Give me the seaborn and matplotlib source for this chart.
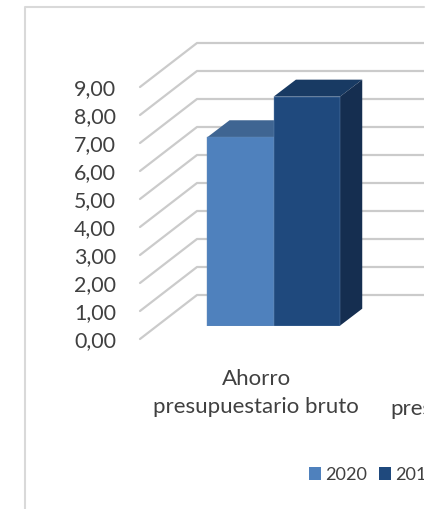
import matplotlib
matplotlib.use("Agg")
import matplotlib.pyplot as plt
from matplotlib.lines import Line2D
from matplotlib.patches import Polygon, Rectangle
import pandas as pd
import seaborn as sns

# ---- data ----
categories = ["Ahorro\npresupuestario bruto"]
years = ["2020", "2019"]
values_2020 = [6.73]
values_2019 = [8.18]
y_ticks = [0, 1, 2, 3, 4, 5, 6, 7, 8, 9]
tick_labels = ["0,00", "1,00", "2,00", "3,00", "4,00", "5,00", "6,00", "7,00", "8,00", "9,00"]
next_category_fragment = "pres"

# ---- style ----
W, H = 445, 509
FONT = "Lato"
FS_TICK = 15.4
FS_CAT = 16.0
FS_LEG = 13.1
TEXT = "#404040"
GRID = "#cbcbcb"
BORDER = "#d9d9d9"
front = {"2020": "#4f81bd", "2019": "#1f497d"}
top = {"2020": "#3f6592", "2019": "#183a63"}
side = {"2020": "#2f4f75", "2019": "#152e50"}

sns.set_theme(style="white")
plt.rcParams["font.family"] = [FONT, "DejaVu Sans"]

fig = plt.figure(figsize=(W / 100, H / 100), dpi=100, facecolor="white")


def box(x0, y_top, x1, y_bottom):
    return [x0 / W, 1 - y_bottom / H, (x1 - x0) / W, (y_bottom - y_top) / H]


# wall / floor grid with value labels
ax = fig.add_axes(box(140, 87, 424, 339))
ax.patch.set_alpha(0)
ax.set_xlim(0, 284)
ax.set_ylim(0, 9)
step = 28.0
for v in y_ticks:
    sns.lineplot(x=[0, 57, 284], y=[v, v + 44 / step, v + 44 / step], ax=ax,
                 color=GRID, linewidth=1.6, clip_on=False, estimator=None, sort=False,
                 solid_joinstyle="round", solid_capstyle="round")
ax.set_yticks(y_ticks, tick_labels, fontsize=FS_TICK, color=TEXT)
ax.set_xticks([])
ax.tick_params(axis="y", length=0, pad=17.3)
sns.despine(ax=ax, left=True, bottom=True)

# bars
bx = fig.add_axes(box(156.6, 73.7, 624.6, 325.7))
bx.patch.set_alpha(0)
df = pd.DataFrame({
    "category": categories * 2,
    "year": years,
    "value": values_2020 + values_2019,
})
sns.barplot(data=df, x="category", y="value", hue="year", hue_order=years, palette=front,
            width=0.567, gap=0, ax=bx, legend=False, saturation=1,
            edgecolor="#6a8db8", linewidth=0.3, zorder=3)
bx.set_xlim(-0.5, 1.5)
bx.set_ylim(0, 9)
bx.set_xlabel("")
bx.set_ylabel("")
bx.set_yticks([])
bx.set_xticks([])
sns.despine(ax=bx, left=True, bottom=True)

dx, dy = 22.3 / 234, 17 / step
for patch, year in zip(bx.patches, years):
    x0, x1 = patch.get_x(), patch.get_x() + patch.get_width()
    h = patch.get_height()
    z = patch.get_zorder()
    bx.add_patch(Polygon([(x0, h), (x1, h), (x1 + dx, h + dy), (x0 + dx, h + dy)],
                         closed=True, facecolor=top[year], edgecolor="none", zorder=z - 1, clip_on=False))
    bx.add_patch(Polygon([(x1, 0), (x1 + dx, dy), (x1 + dx, h + dy), (x1, h)],
                         closed=True, facecolor=side[year], edgecolor="none", zorder=z - 1, clip_on=False))

# category labels
fig.text(256 / W, 1 - 393 / H, categories[0], ha="center", va="center",
         fontsize=FS_CAT, color=TEXT, linespacing=1.52)
fig.text(390 / W, 1 - 415 / H, next_category_fragment, ha="left", va="baseline",
         fontsize=FS_CAT, color=TEXT)

# legend
handles = [Rectangle((0, 0), 1, 1, facecolor=front[y], edgecolor="none") for y in years]
fig.legend(handles, years, loc="center left", bbox_to_anchor=(309 / W, 1 - 475 / H), ncol=2,
           frameon=False, fontsize=FS_LEG, handlelength=0.66, handleheight=0.66,
           handletextpad=0.2, columnspacing=0.7, labelcolor=TEXT, borderpad=0, borderaxespad=0)

# the source image is cropped at its right side
fig.add_artist(Rectangle((424 / W, 0), 21 / W, 1, transform=fig.transFigure,
                         facecolor="white", edgecolor="none", zorder=20))
# chart frame
fig.add_artist(Line2D([25 / W, 25 / W, 424 / W], [0, 1 - 7 / H, 1 - 7 / H],
                      color=BORDER, linewidth=1.5, zorder=21))

fig.savefig("out.png", dpi=100)
